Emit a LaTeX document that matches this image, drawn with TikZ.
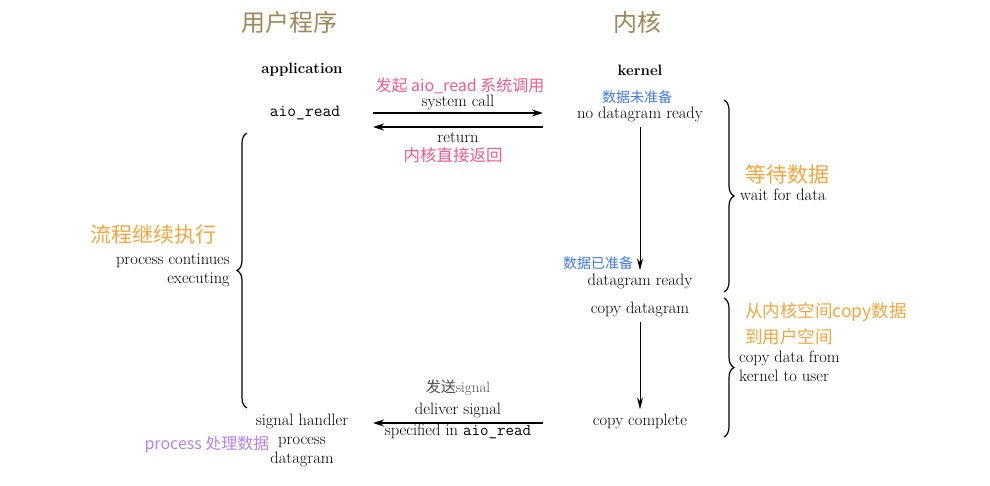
\documentclass[tikz,border=0pt]{standalone}
\usepackage{fontspec}
\newfontfamily\cjk{Noto Sans CJK SC}
\usetikzlibrary{arrows.meta, calc, decorations.pathreplacing}
\definecolor{ttlc}{RGB}{160,132,90}
\definecolor{orgc}{RGB}{245,165,60}
\definecolor{pnkc}{RGB}{240,90,140}
\definecolor{bluc}{RGB}{60,120,240}
\definecolor{purc}{RGB}{180,130,240}
\tikzset{
  ttl/.style={font=\cjk\fontsize{24}{26}\selectfont, text=ttlc},
  txt/.style={font=\fontsize{16.5}{19}\selectfont, align=center, inner sep=1pt},
  hdr/.style={font=\bfseries\fontsize{15}{17}\selectfont},
  code/.style={font=\ttfamily\fontsize{17}{19}\selectfont, inner sep=1pt},
  zh/.style={font=\cjk\fontsize{14}{16}\selectfont, inner sep=1pt},
  zhbig/.style={font=\cjk\fontsize{21}{24}\selectfont, text=orgc, inner sep=1pt},
  harr/.style={-{Stealth[length=11pt,width=7pt]}, line width=1.6pt},
  varr/.style={-{Stealth[length=12pt,width=6pt]}, line width=0.9pt},
  brc/.style={decorate, decoration={brace, amplitude=10pt}, line width=1.2pt},
}
\begin{document}
\begin{tikzpicture}[x=1pt,y=1pt]
\useasboundingbox (0,0) rectangle (990,-485);
% titles
\node[ttl] (tusr) at (289,-22) {用户程序};
\node[ttl] (tker) at (637,-22) {内核};
\node[hdr] (app) at (302,-70) {application};
\node[hdr] (kern) at (640,-70) {kernel};
% application side
\node[code] (aio) at (305,-113) {aio\_read};
\node[txt] (sigh) at (302,-440) {signal handler\\process\\datagram};
\node[zh, text=purc, font=\cjk\fontsize{16}{18}\selectfont] (sighz) at (207,-445) {process 处理数据};
\node[txt, anchor=east, align=right] (pce) at (231,-270) {process continues\\executing};
\node[zhbig] (pcez) at (153,-235) {流程继续执行};
% kernel side
\node[txt] (nodr) at (640,-114) {no datagram ready};
\node[zh, text=bluc, inner sep=0pt] (nodrz) at (637,-97) {数据未准备};
\node[txt] (dgr) at (640,-281) {datagram ready};
\node[zh, text=bluc] (dgrz) at (598,-263) {数据已准备};
\node[txt] (cpdg) at (640,-309) {copy datagram};
\node[txt] (cpcp) at (640,-421) {copy complete};
\node[zhbig] (wfdz) at (787,-174) {等待数据};
\node[txt, anchor=west] (wfd) at (739,-195) {wait for data};
\node[zhbig, font=\cjk\fontsize{17.5}{20}\selectfont, anchor=west] (cdkz) at (744,-312) {从内核空间copy数据};
\node[zhbig, font=\cjk\fontsize{17.5}{20}\selectfont, anchor=west] (cdkz2) at (744,-337) {到用户空间};
\node[txt, anchor=west, align=left] (cdk) at (738,-366) {copy data from\\kernel to user};
% arrow labels
\node[zh, text=pnkc, font=\cjk\fontsize{16}{18}\selectfont] (sysz) at (460,-86) {发起 aio\_read 系统调用};
\node[txt] (sysc) at (458,-102) {system call};
\node[txt] (ret) at (458,-137) {return};
\node[zh, text=pnkc, font=\cjk\fontsize{16.5}{18}\selectfont] (retz) at (453,-155) {内核直接返回};
\node[zh, text=black!70, font=\cjk\fontsize{15}{17}\selectfont] (dlsz) at (458,-388) {发送{\rmfamily signal}};
\node[txt] (dls) at (458,-410) {deliver signal};
\node[txt] (spc) at (458,-431) {specified in \texttt{aio\_read}};
% arrows
\draw[harr] (aio -| 373,0) -- ($(nodr -| 543,0)+(0,1)$);
\draw[harr] ($(nodr -| 543,0)+(0,-13)$) -- ($(aio -| 373,0)+(0,-14)$);
\draw[harr] ($(cpcp -| 543,0)+(0,-2)$) -- ($(sigh -| 373,0)+(0,17)$);
\draw[varr, shorten <=4pt, shorten >=2pt] (nodr.south) -- (dgr.north);
\draw[varr, shorten <=4pt, shorten >=3pt] (cpdg.south) -- (cpcp.north);
% braces
\draw[brc] (724,-100) -- (724,-292);
\draw[brc] (724,-298) -- (724,-437);
\draw[brc] (247,-408) -- (247,-133);
\end{tikzpicture}
\end{document}
